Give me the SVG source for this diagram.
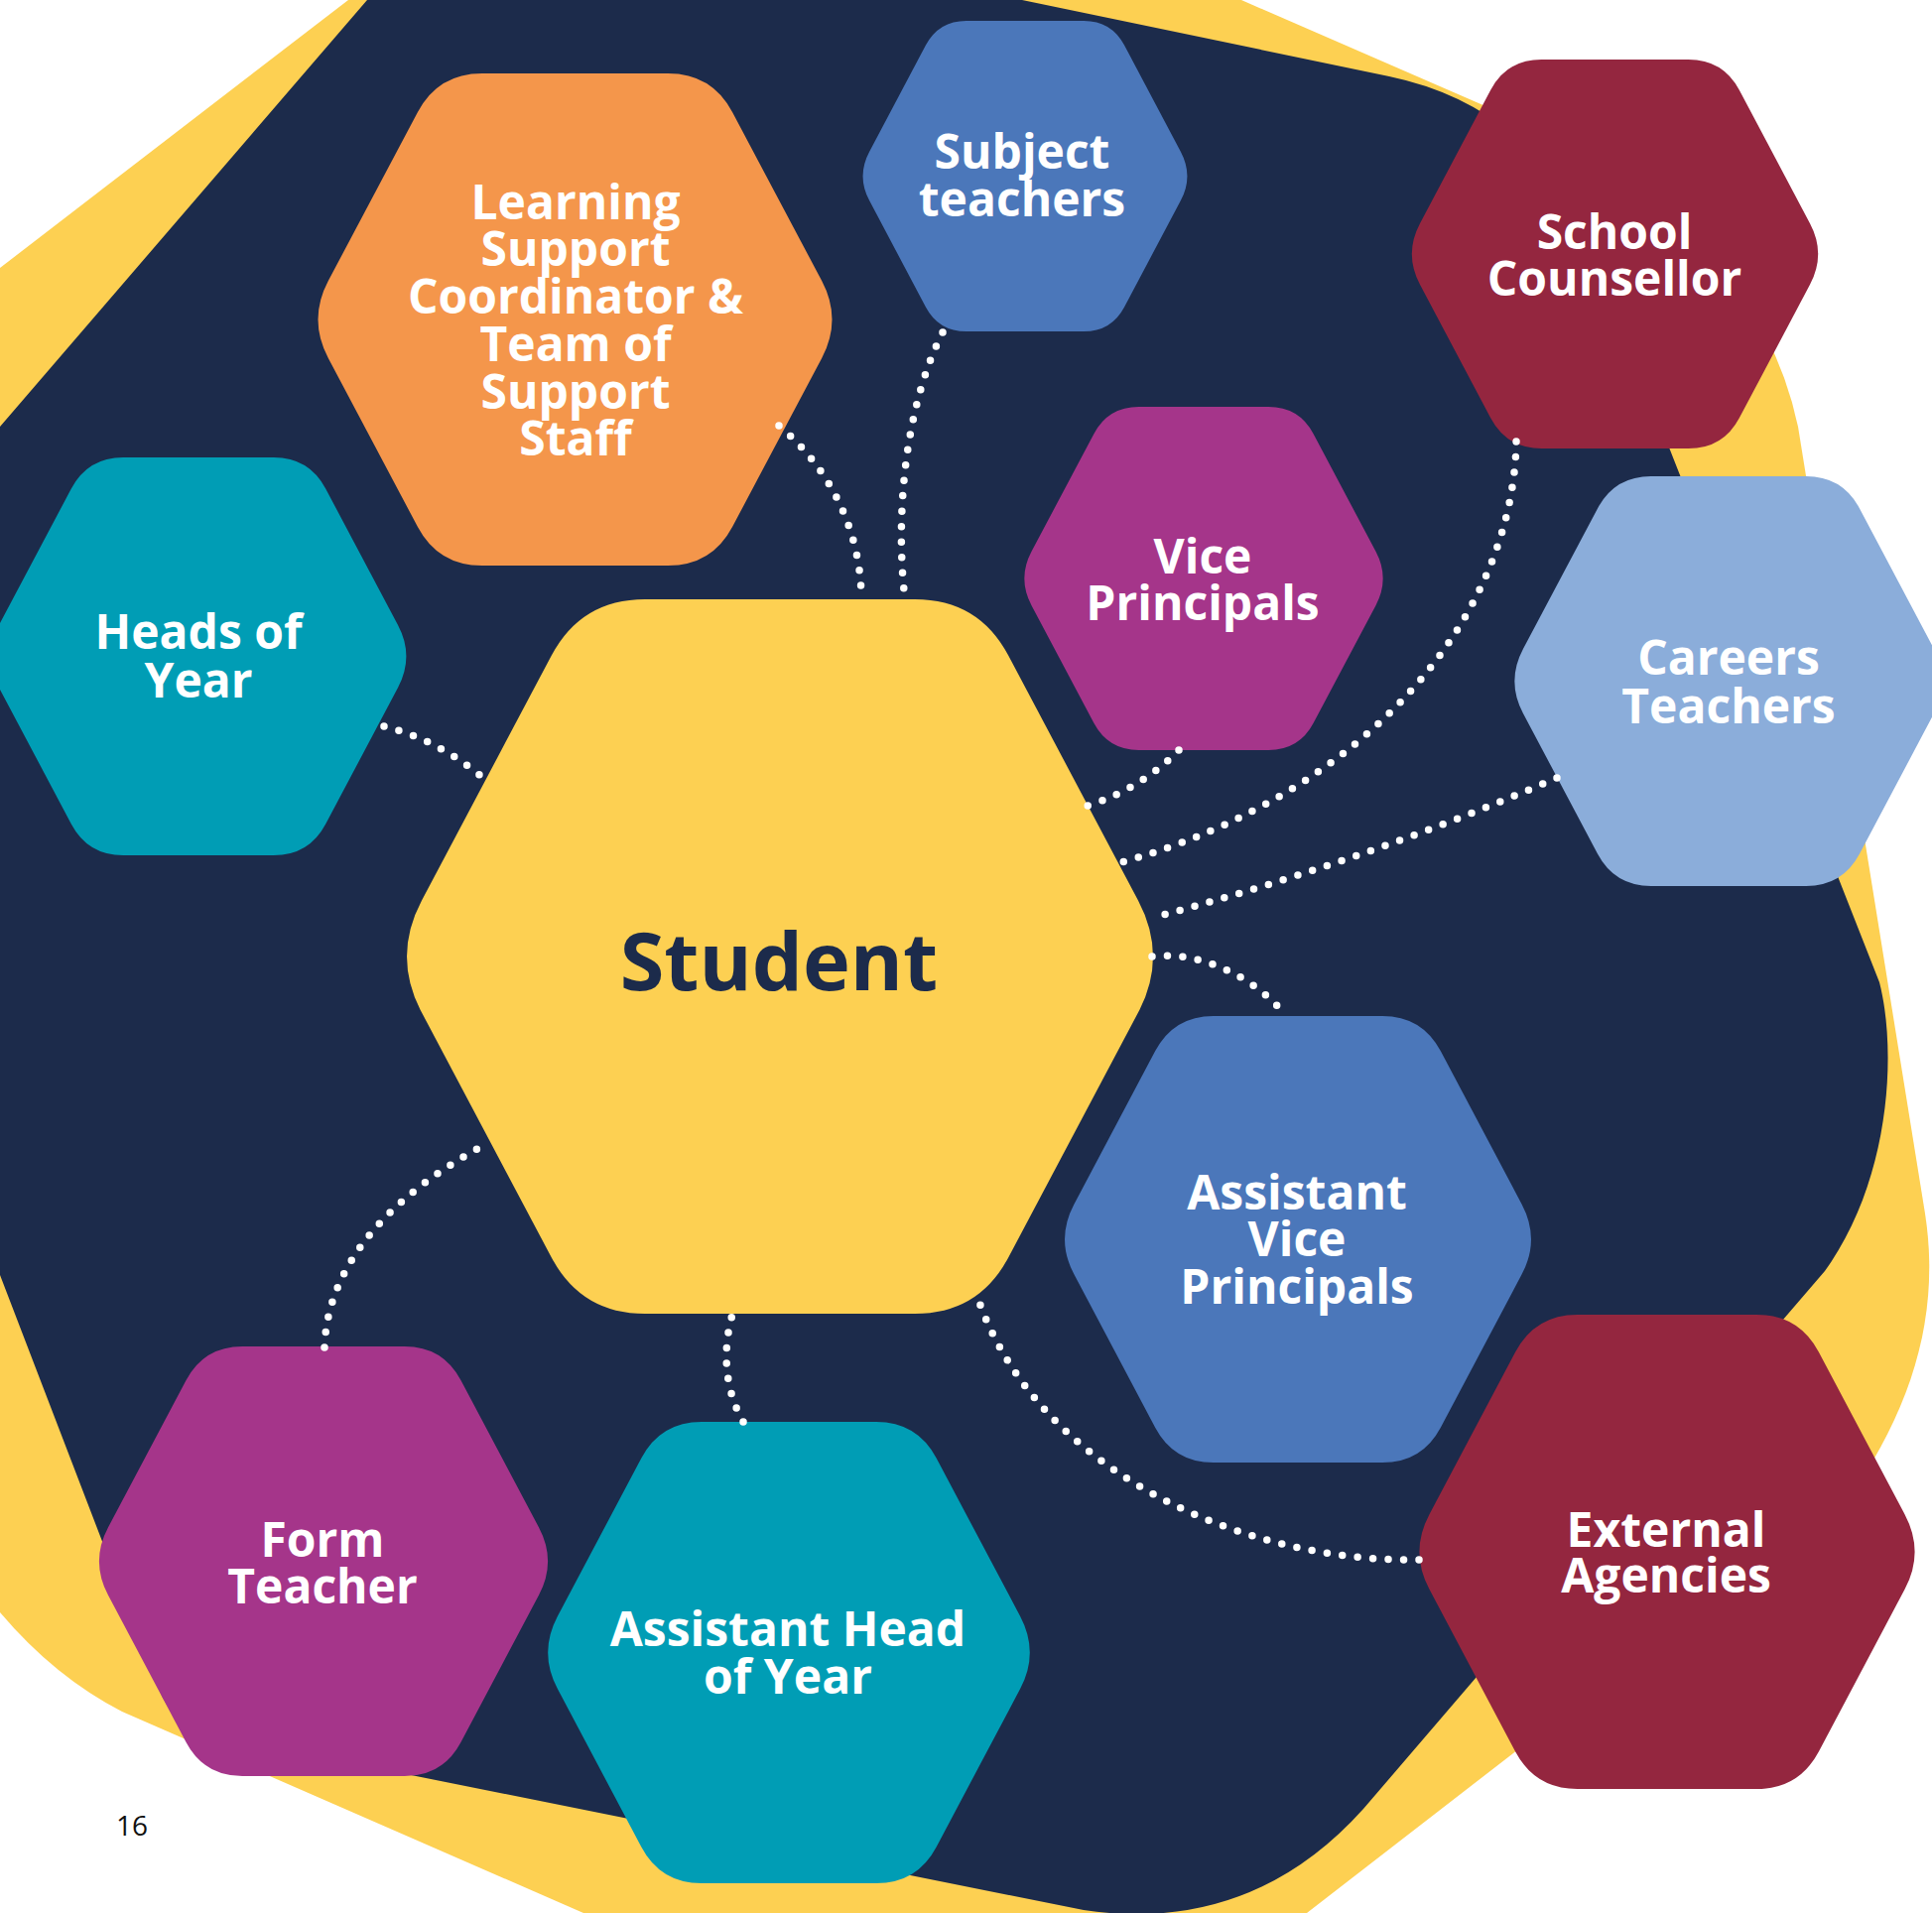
<svg xmlns="http://www.w3.org/2000/svg" xmlns:xlink="http://www.w3.org/1999/xlink" width="1947" height="1928" viewBox="0 0 1947 1928">
<style>
.lbl{font-family:"Open Sans","Noto Sans","Liberation Sans",sans-serif;font-weight:700;font-size:48px;fill:#ffffff;text-anchor:middle}
.stu{font-family:"Open Sans","Noto Sans","Liberation Sans",sans-serif;font-weight:700;font-size:81px;fill:#1c2b4b;text-anchor:middle}
.pg{font-family:"Open Sans","Noto Sans","Liberation Sans",sans-serif;font-size:28px;fill:#111111;text-anchor:middle}
.orange{fill:#f4964b}
.blue{fill:#4b77ba}
.maroon{fill:#94263f}
.purple{fill:#a5358a}
.teal{fill:#009db5}
.lblue{fill:#8badda}
.yellow{fill:#fdd052}
.conn{fill:none;stroke:#ffffff;stroke-width:7.5;stroke-linecap:round;stroke-dasharray:0 15.5}
</style>
<defs>
<path id="hex" d="M-37.8,-100 L37.8,-100 Q55.6,-100 63.93,-84.28 L100.27,-15.72 Q108.6,0 100.27,15.72 L63.93,84.28 Q55.6,100 37.8,100 L-37.8,100 Q-55.6,100 -63.93,84.28 L-100.27,15.72 Q-108.6,0 -100.27,-15.72 L-63.93,-84.28 Q-55.6,-100 -37.8,-100 Z"/>
</defs>
<rect x="0" y="0" width="1947" height="1928" fill="#ffffff"/>
<g id="background">
<path fill="#fdd052" d="M0,270 L351,0 L1251,0 L1520,117 Q1770,230 1812,430 L1940,1223 C1955,1320 1930,1410 1870,1500 L1317,1928 L588,1928 L123,1725 Q55,1690 0,1625 Z"/>
<path fill="#1c2b4b" d="M0,430 L370,0 L1030,0 L1400,77 Q1548,108 1603,250 L1894,990 C1912,1060 1905,1190 1839,1281 L1374,1823 Q1260,1950 1092,1925 L215,1749 Q175,1741 160,1702 L0,1285 Z"/>
</g>
<g id="node-learning-support">
<use xlink:href="#hex" class="orange" transform="translate(579.5 322) scale(2.48)"/>
<text class="lbl"><tspan x="580" y="221">Learning</tspan><tspan x="580" y="268">Support</tspan><tspan x="580" y="316">Coordinator &amp;</tspan><tspan x="580" y="364">Team of</tspan><tspan x="580" y="412">Support</tspan><tspan x="580" y="459">Staff</tspan></text>
</g>
<g id="node-subject-teachers">
<use xlink:href="#hex" class="blue" transform="translate(1033 177.5) scale(1.565)"/>
<text class="lbl"><tspan x="1030" y="170">Subject</tspan><tspan x="1030" y="218">teachers</tspan></text>
</g>
<g id="node-school-counsellor">
<use xlink:href="#hex" class="maroon" transform="translate(1627.5 256) scale(1.96)"/>
<text class="lbl"><tspan x="1627" y="251">School</tspan><tspan x="1627" y="298">Counsellor</tspan></text>
</g>
<g id="node-vice-principals">
<use xlink:href="#hex" class="purple" transform="translate(1213 583) scale(1.73)"/>
<text class="lbl"><tspan x="1212" y="578">Vice</tspan><tspan x="1212" y="625">Principals</tspan></text>
</g>
<g id="node-heads-of-year">
<use xlink:href="#hex" class="teal" transform="translate(200 661.5) scale(2.005)"/>
<text class="lbl"><tspan x="200" y="654">Heads of</tspan><tspan x="200" y="703">Year</tspan></text>
</g>
<g id="node-careers-teachers">
<use xlink:href="#hex" class="lblue" transform="translate(1742 686.5) scale(2.065)"/>
<text class="lbl"><tspan x="1742" y="680">Careers</tspan><tspan x="1742" y="729">Teachers</tspan></text>
</g>
<g id="node-student">
<use xlink:href="#hex" class="yellow" transform="translate(786 964) scale(3.6)"/>
<text class="stu" x="785" y="998">Student</text>
</g>
<g id="node-assistant-vice-principals">
<use xlink:href="#hex" class="blue" transform="translate(1308 1249) scale(2.25)"/>
<text class="lbl"><tspan x="1307" y="1219">Assistant</tspan><tspan x="1307" y="1266">Vice</tspan><tspan x="1307" y="1314">Principals</tspan></text>
</g>
<g id="node-external-agencies">
<use xlink:href="#hex" class="maroon" transform="translate(1680 1564) scale(2.39)"/>
<text class="lbl"><tspan x="1679" y="1559">External</tspan><tspan x="1679" y="1605">Agencies</tspan></text>
</g>
<g id="node-form-teacher">
<use xlink:href="#hex" class="purple" transform="translate(326 1573.5) scale(2.165)"/>
<text class="lbl"><tspan x="325" y="1569">Form</tspan><tspan x="325" y="1616">Teacher</tspan></text>
</g>
<g id="node-assistant-head-of-year">
<use xlink:href="#hex" class="teal" transform="translate(795 1665.5) scale(2.325)"/>
<text class="lbl"><tspan x="794" y="1659">Assistant Head</tspan><tspan x="794" y="1707">of Year</tspan></text>
</g>
<g id="connectors">
<path class="conn" d="M785,429 C840,475 868,540 868,604"/>
<path class="conn" d="M950,335 C912,410 902,520 912,604"/>
<path class="conn" d="M387,732 Q440,745 487,784"/>
<path class="conn" d="M1188,756 Q1150,795 1096,812"/>
<path class="conn" d="M1528,445 C1525,620 1380,800 1127,870"/>
<path class="conn" d="M1569,784 Q1370,870 1161,925"/>
<path class="conn" d="M1161,964 C1210,958 1265,985 1296,1024"/>
<path class="conn" d="M327,1358 C330,1270 400,1200 494,1151"/>
<path class="conn" d="M749,1433 C730,1400 728,1360 738,1325"/>
<path class="conn" d="M1430,1572 C1250,1575 1040,1480 983,1301"/>
</g>
<text class="pg" x="133" y="1850">16</text>
</svg>
